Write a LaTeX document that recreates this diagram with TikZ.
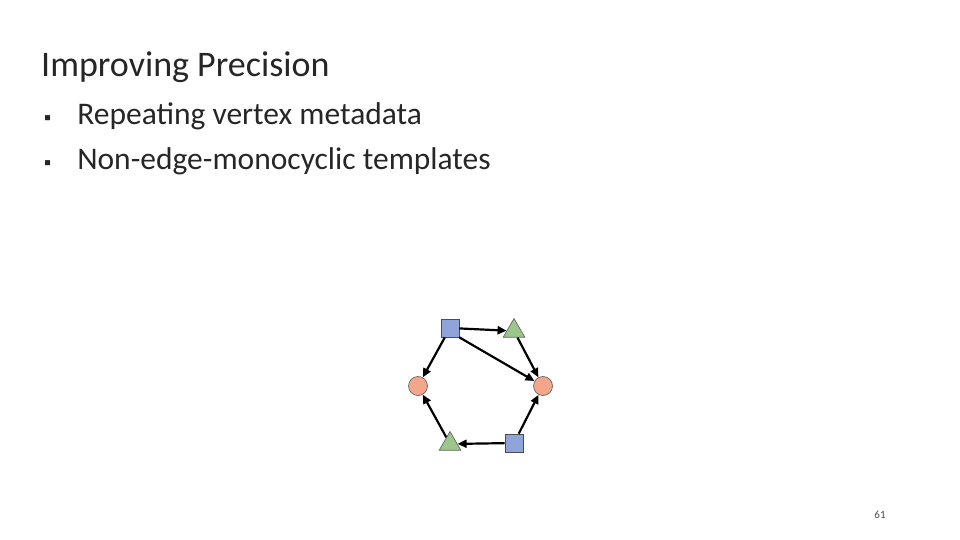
\documentclass[tikz,border=0pt]{standalone}
\usepackage{fontspec}
\setmainfont{Carlito}
\usetikzlibrary{shapes.geometric,arrows.meta}
\definecolor{sqc}{HTML}{8EA4DB}
\definecolor{cic}{HTML}{F4A68A}
\definecolor{trc}{HTML}{9CC78A}
\begin{document}
\begin{tikzpicture}[x=1pt,y=-1pt,
 sq/.style={draw=black!70,fill=sqc,minimum size=18pt,inner sep=0pt,line width=0.7pt},
 ci/.style={circle,draw=black!60,fill=cic,minimum size=19pt,inner sep=0pt,line width=0.7pt},
 tr/.style={regular polygon,regular polygon sides=3,draw=black!60,fill=trc,minimum size=25pt,inner sep=0pt,line width=0.7pt},
 ar/.style={-{Triangle[length=9pt,width=8pt]},line width=2.2pt},
 txt/.style={anchor=west,inner sep=0pt,text=black!85}]
\useasboundingbox (0,0) rectangle (960,540);
\node[txt,font=\fontsize{36}{40}\selectfont] (title) at (41,67) {Improving Precision};
\node[txt,font=\fontsize{31.5}{36}\selectfont] (b1) at (44,116) {\fontsize{20}{20}\selectfont\symbol{"25AA}\hspace{26pt}\fontsize{31.5}{36}\selectfont Repeating vertex metadata};
\node[txt,font=\fontsize{31.5}{36}\selectfont] (b2) at (44,161) {\fontsize{20}{20}\selectfont\symbol{"25AA}\hspace{26pt}\fontsize{31.5}{36}\selectfont Non-edge-monocyclic templates};
\node[sq] (s1) at (450,328) {};
\node[tr] (t1) at (514,331) {};
\node[ci] (c1) at (418,386) {};
\node[ci] (c2) at (543,386) {};
\node[tr] (t2) at (450,444) {};
\node[sq] (s2) at (514,443) {};
\draw[ar] (s1) -- (t1);
\draw[ar] (t1) -- (c2);
\draw[ar] (s1) -- (c1);
\draw[ar] (s1.south east) -- (c2);
\draw[ar] (s2) -- (t2);
\draw[ar] (s2) -- (c2);
\draw[ar] (t2) -- (c1);
\node[font=\fontsize{11}{12}\selectfont,text=black!70] (pg) at (880,515) {61};
\end{tikzpicture}
\end{document}
